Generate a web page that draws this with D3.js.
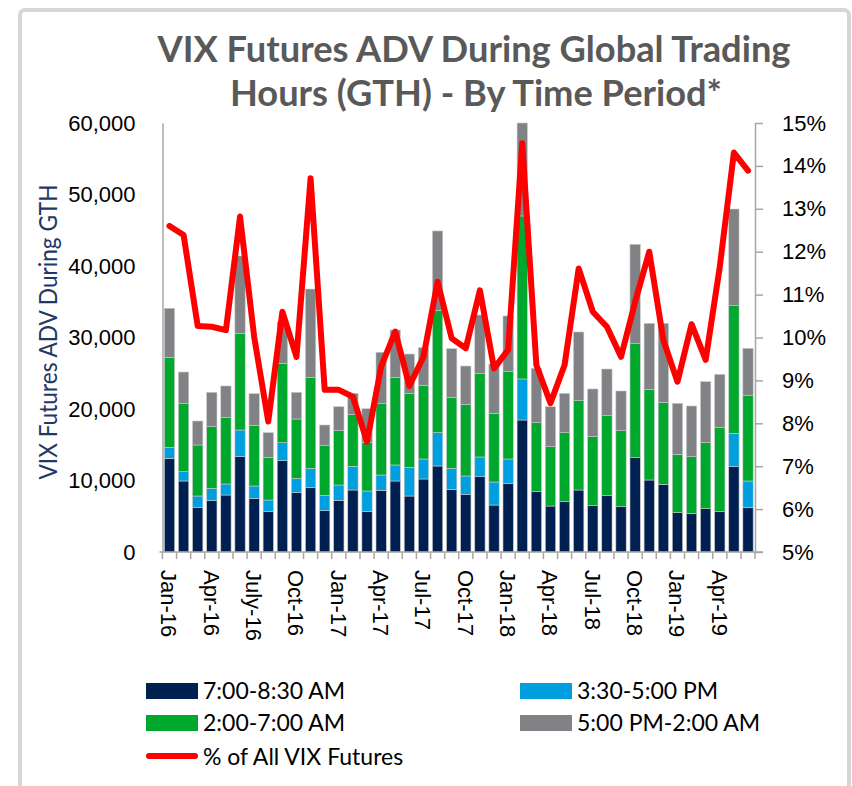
<!DOCTYPE html>
<html>
<head>
<meta charset="utf-8">
<script src="https://cdn.jsdelivr.net/npm/d3@7"></script>
<style>
  body { margin: 0; background: #ffffff; }
  svg { display: block; }
</style>
</head>
<body>
<svg id="chart" width="852" height="786"></svg>
<script>
// months shown as categories (every bar)
var months = ['Jan-16','Feb-16','Mar-16','Apr-16','May-16','Jun-16','July-16','Aug-16','Sep-16','Oct-16','Nov-16','Dec-16',
    'Jan-17','Feb-17','Mar-17','Apr-17','May-17','Jun-17','Jul-17','Aug-17','Sep-17','Oct-17','Nov-17','Dec-17',
    'Jan-18','Feb-18','Mar-18','Apr-18','May-18','Jun-18','Jul-18','Aug-18','Sep-18','Oct-18','Nov-18','Dec-18',
    'Jan-19','Feb-19','Mar-19','Apr-19','May-19','Jun-19'];

// only these get a label on the x axis
var tickMonths = ['Jan-16','Apr-16','July-16','Oct-16','Jan-17','Apr-17','Jul-17','Oct-17',
    'Jan-18','Apr-18','Jul-18','Oct-18','Jan-19','Apr-19'];

// ADV per time period (contracts)
var am730 = [13100, 9930, 6250, 7180, 7970, 13330, 7500, 5640, 12770, 8340, 9000, 5780,
    7230, 8670, 5640, 8630, 9930, 7830, 10210, 12030, 8770, 8070, 10530, 6570,
    9610, 18460, 8440, 6430, 7040, 8670, 6480, 7880, 6340, 13190, 10070, 9460,
    5500, 5410, 6060, 5640, 11930, 6200];

var pm330 = [1540, 1300, 1580, 1720, 1540, 3730, 1730, 1630, 2520, 1960, 2700, 2140,
    2140, 3310, 2890, 2140, 2240, 4010, 2800, 4660, 2930, 2560, 2760, 3220,
    3400, 5740, 0, 0, 0, 0, 0, 0, 0, 0, 0, 0,
    0, 0, 0, 0, 4670, 3730];

var am200 = [12590, 9570, 7140, 8630, 9320, 13520, 8490, 5970, 11100, 8300, 12730, 6950,
    7600, 7270, 6810, 9970, 12260, 10350, 10300, 17060, 9930, 10020, 11700, 9610,
    12210, 22800, 9650, 8300, 9650, 12490, 9650, 11190, 10630, 15940, 12680, 11470,
    8160, 7920, 9280, 11800, 17850, 11930];

var pm500 = [6850, 4370, 3350, 4800, 4390, 10820, 4420, 3450, 5810, 3730, 12350, 2890,
    3350, 2940, 4700, 7190, 6620, 5500, 5270, 11150, 6810, 5360, 8160, 6890,
    7790, 13000, 7600, 5590, 5500, 9610, 6670, 6520, 5550, 13900, 9230, 11050,
    7130, 7090, 8480, 7410, 13520, 6630];

// GTH share of all VIX futures volume (%)
var pctAll = [12.6, 12.39, 10.27, 10.25, 10.17, 12.82, 10.02, 8.04, 10.6, 9.55, 13.71, 8.78,
    8.78, 8.62, 7.57, 9.32, 10.14, 8.87, 9.55, 11.3, 9.98, 9.75, 11.1, 9.28,
    9.71, 14.53, 9.36, 8.47, 9.36, 11.61, 10.6, 10.25, 9.55, 10.83, 12.0, 9.94,
    8.97, 10.31, 9.48, 11.65, 14.31, 13.89];

var leftTicks = [0, 10000, 20000, 30000, 40000, 50000, 60000];
var rightTicks = [5, 6, 7, 8, 9, 10, 11, 12, 13, 14, 15];

var seriesKeys = ['am730', 'pm330', 'am200', 'pm500'];
var seriesNames = {
    am730: '7:00-8:30 AM',
    pm330: '3:30-5:00 PM',
    am200: '2:00-7:00 AM',
    pm500: '5:00 PM-2:00 AM'
};
var colours = {
    am730: '#002052',
    pm330: '#00a0e0',
    am200: '#00a82d',
    pm500: '#808285'
};

// build rows for the stack
var rows = months.map(function(m, i) {
    return { month: m, am730: am730[i], pm330: pm330[i], am200: am200[i], pm500: pm500[i], pct: pctAll[i] };
});

var svg = d3.select('#chart');

// frame round the chart
svg.append('rect')
    .attr('x', 20).attr('y', 10)
    .attr('width', 829).attr('height', 800)
    .attr('rx', 5)
    .attr('fill', '#ffffff')
    .attr('stroke', '#d6d6d6')
    .attr('stroke-width', 4);

var plot = { left: 162.5, right: 755, top: 123, bottom: 552 };

var x = d3.scaleBand()
    .domain(months)
    .range([plot.left, plot.right])
    .paddingInner(0.27)
    .paddingOuter(0.13);

var y = d3.scaleLinear()
    .domain([0, 60000])
    .range([plot.bottom, plot.top]);

var y2 = d3.scaleLinear()
    .domain([5, 15])
    .range([plot.bottom, plot.top]);

// title
var title = svg.append('g')
    .attr('font-family', 'Lato, sans-serif')
    .attr('font-weight', 'bold')
    .attr('font-size', '37px')
    .attr('fill', '#595959')
    .attr('text-anchor', 'middle');
title.append('text')
    .attr('x', 474).attr('y', 62)
    .attr('textLength', 633)
    .attr('lengthAdjust', 'spacingAndGlyphs')
    .text('VIX Futures ADV During Global Trading');
title.append('text')
    .attr('x', 476).attr('y', 106)
    .attr('textLength', 492)
    .attr('lengthAdjust', 'spacingAndGlyphs')
    .text('Hours (GTH) - By Time Period*');

// stacked bars
var stacked = d3.stack().keys(seriesKeys)(rows);

svg.append('g')
    .selectAll('g')
    .data(stacked)
    .enter()
    .append('g')
    .attr('fill', function(d) { return colours[d.key]; })
    .selectAll('rect')
    .data(function(d) { return d; })
    .enter()
    .append('rect')
    .attr('x', function(d) { return x(d.data.month); })
    .attr('y', function(d) { return y(d[1]); })
    .attr('width', x.bandwidth())
    .attr('height', function(d) { return y(d[0]) - y(d[1]); })
    .attr('stroke', '#c8c8c8')
    .attr('stroke-width', 0.6);

// left axis - line only
var leftAxis = svg.append('g')
    .attr('transform', 'translate(' + plot.left + ',0)')
    .call(d3.axisLeft(y).tickValues(leftTicks).tickSize(0).tickPadding(27)
        .tickFormat(d3.format(',')));
leftAxis.select('.domain').attr('stroke', '#a6a6a6').attr('stroke-width', 1.5);
leftAxis.selectAll('text')
    .attr('font-family', '"Liberation Sans", Arial, sans-serif')
    .attr('font-size', '22px')
    .attr('fill', '#000');

// right axis
var rightAxis = svg.append('g')
    .attr('transform', 'translate(' + plot.right + ',0)')
    .call(d3.axisRight(y2).tickValues(rightTicks).tickSizeInner(8).tickSizeOuter(0).tickPadding(19)
        .tickFormat(function(d) { return d + '%'; }));
rightAxis.select('.domain').attr('stroke', '#a6a6a6').attr('stroke-width', 1.5);
rightAxis.selectAll('line').attr('stroke', '#a6a6a6').attr('stroke-width', 1.5);
rightAxis.selectAll('text')
    .attr('font-family', '"Liberation Sans", Arial, sans-serif')
    .attr('font-size', '22px')
    .attr('fill', '#000');

// bottom axis: ticks on the boundaries between bars
var bottom = svg.append('g').attr('class', 'x axis');
bottom.append('line')
    .attr('x1', plot.left - 3).attr('x2', plot.right + 8)
    .attr('y1', plot.bottom).attr('y2', plot.bottom)
    .attr('stroke', '#a6a6a6').attr('stroke-width', 1.5);
var step = x.step();
var edges = months.map(function(m) { return x(m) - (step - x.bandwidth()) / 2; });
edges.push(plot.right);
bottom.selectAll('.edge')
    .data(edges)
    .enter()
    .append('line')
    .attr('class', 'edge')
    .attr('x1', function(d) { return d; })
    .attr('x2', function(d) { return d; })
    .attr('y1', plot.bottom)
    .attr('y2', plot.bottom + 7)
    .attr('stroke', '#a6a6a6')
    .attr('stroke-width', 1.5);

bottom.selectAll('.lbl')
    .data(tickMonths)
    .enter()
    .append('text')
    .attr('class', 'lbl')
    .attr('transform', function(d) {
        return 'translate(' + (x(d) + x.bandwidth() / 2 - 8) + ',' + (plot.bottom + 18) + ') rotate(90)';
    })
    .attr('font-family', '"Liberation Sans", Arial, sans-serif')
    .attr('font-size', '22px')
    .attr('fill', '#000')
    .text(function(d) { return d; });

// y axis title
svg.append('text')
    .attr('transform', 'translate(57,332) rotate(-90)')
    .attr('text-anchor', 'middle')
    .attr('font-family', 'Lato, sans-serif')
    .attr('font-size', '25px')
    .attr('fill', '#1f3864')
    .attr('textLength', 295)
    .attr('lengthAdjust', 'spacingAndGlyphs')
    .text('VIX Futures ADV During GTH');

// share line
var line = d3.line()
    .x(function(d) { return x(d.month) + x.bandwidth() / 2; })
    .y(function(d) { return y2(d.pct); });

svg.append('path')
    .datum(rows)
    .attr('d', line)
    .attr('fill', 'none')
    .attr('stroke', '#ff0000')
    .attr('stroke-width', 6)
    .attr('stroke-linejoin', 'round')
    .attr('stroke-linecap', 'round');

// legend
var legendItems = [
    { key: 'am730', x: 146, y: 683 },
    { key: 'pm330', x: 520, y: 683 },
    { key: 'am200', x: 146, y: 715 },
    { key: 'pm500', x: 520, y: 715 }
];
var legend = svg.append('g')
    .attr('font-family', 'Lato, sans-serif')
    .attr('font-size', '23px')
    .attr('fill', '#000');

legendItems.forEach(function(item) {
    legend.append('rect')
        .attr('x', item.x).attr('y', item.y)
        .attr('width', 52).attr('height', 16)
        .attr('fill', colours[item.key]);
    legend.append('text')
        .attr('x', item.x + 57).attr('y', item.y + 16)
        .text(seriesNames[item.key]);
});
legend.append('line')
    .attr('x1', 149).attr('x2', 195)
    .attr('y1', 756).attr('y2', 756)
    .attr('stroke', '#ff0000')
    .attr('stroke-width', 6)
    .attr('stroke-linecap', 'round');
legend.append('text')
    .attr('x', 203).attr('y', 765)
    .text('% of All VIX Futures');
</script>
</body>
</html>
